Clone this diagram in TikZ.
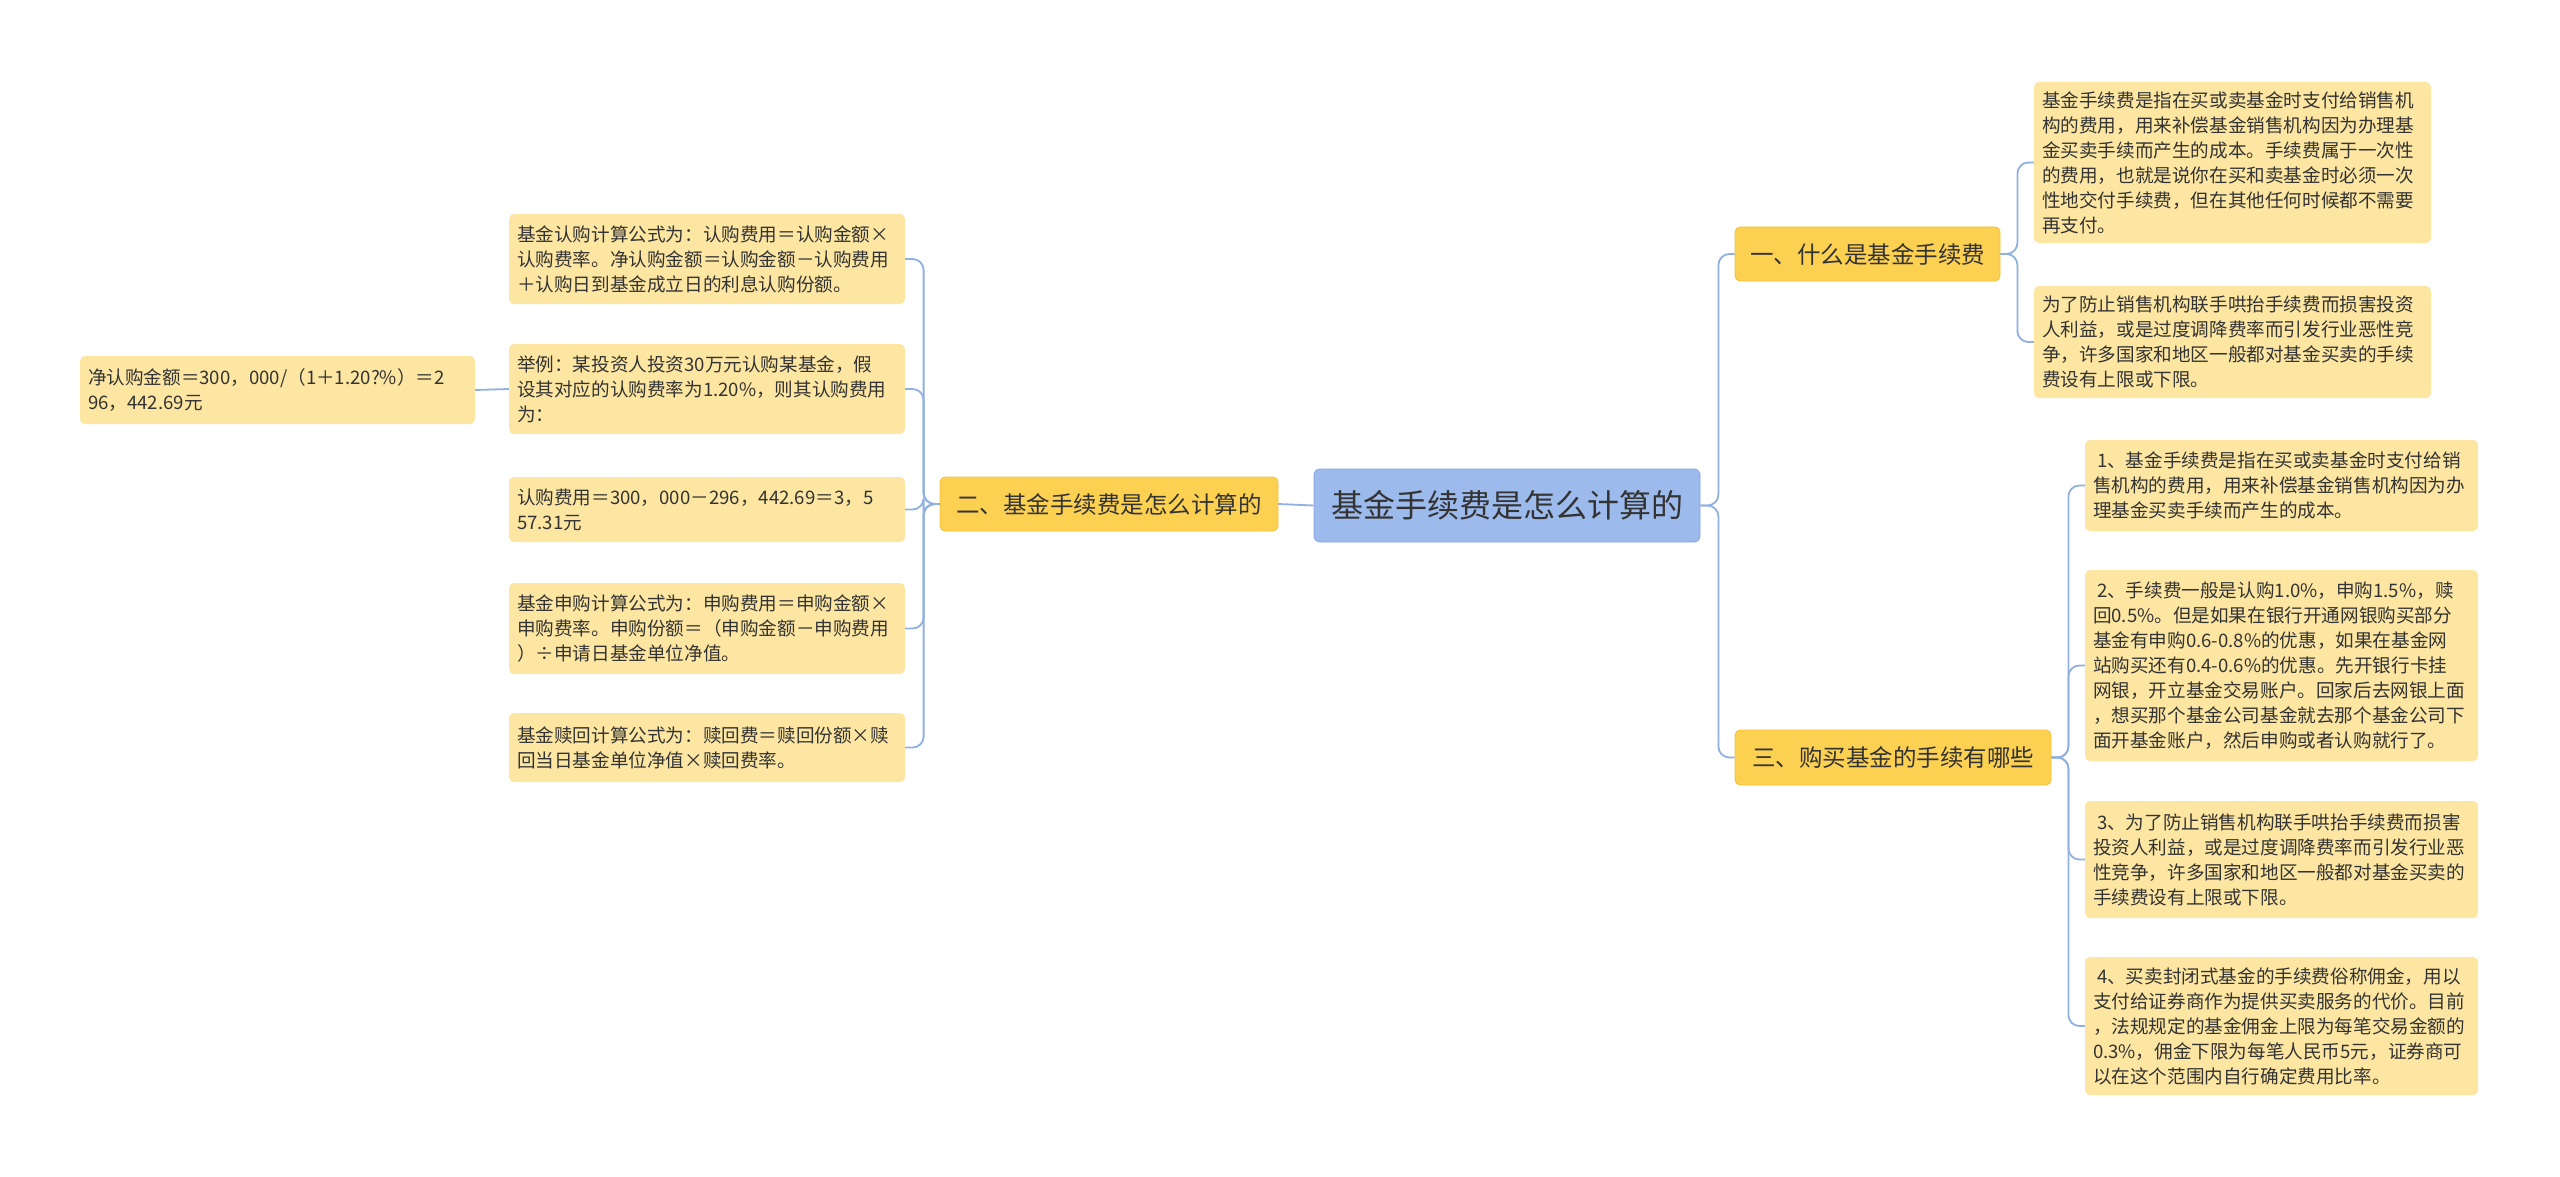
\documentclass[tikz,border=0pt]{standalone}
\usepackage{fontspec}
\setmainfont{Noto Sans CJK SC}
\begin{document}
\begin{tikzpicture}[x=1pt,y=-1pt,
  conn/.style={draw=linkblue,line width=1.8pt,rounded corners=11pt},
  leaf/.style={fill=leaffill,rounded corners=5pt,text=txt,align=left,
    font=\fontsize{18.6}{25}\selectfont,inner xsep=8pt,inner ysep=0pt,anchor=center},
  branch/.style={fill=branchfill,draw=branchdraw,line width=0.8pt,rounded corners=5pt,text=txt,
    font=\fontsize{23.5}{28}\selectfont,inner sep=0pt,anchor=center},
  rootbox/.style={fill=rootfill,draw=rootdraw,line width=0.8pt,rounded corners=6pt,text=txt,
    font=\fontsize{32}{38}\selectfont,inner sep=0pt,anchor=center}]
\definecolor{linkblue}{HTML}{8FB0E0}
\definecolor{leaffill}{HTML}{FDE6A2}
\definecolor{branchfill}{HTML}{FCD152}
\definecolor{branchdraw}{HTML}{F2C23C}
\definecolor{rootfill}{HTML}{9DBAEC}
\definecolor{rootdraw}{HTML}{86A6E0}
\definecolor{txt}{HTML}{333333}
\useasboundingbox[fill=white] (0,0) rectangle (2560,1177);

% root and branches
\node[rootbox,minimum width=386pt,minimum height=73pt] (root) at (1507,505.5) {基金手续费是怎么计算的};
\node[branch,minimum width=338pt,minimum height=54pt] (b2) at (1109,504) {二、基金手续费是怎么计算的};
\node[branch,minimum width=265pt,minimum height=54pt] (b1) at (1867.5,254) {一、什么是基金手续费};
\node[branch,minimum width=316pt,minimum height=55pt] (b3) at (1893,757.5) {三、购买基金的手续有哪些};

% left leaves
\node[leaf,text width=380pt,minimum height=90pt] (l1) at (707,259) {基金认购计算公式为：认购费用＝认购金额×\\认购费率。净认购金额＝认购金额－认购费用\\＋认购日到基金成立日的利息认购份额。};
\node[leaf,text width=380pt,minimum height=90pt] (l2) at (707,389) {举例：某投资人投资30万元认购某基金，假\\设其对应的认购费率为1.20\%，则其认购费用\\为：};
\node[leaf,text width=380pt,minimum height=65pt] (l3) at (707,509.5) {认购费用＝300，000－296，442.69＝3，5\\57.31元};
\node[leaf,text width=380pt,minimum height=91pt] (l4) at (707,628.5) {基金申购计算公式为：申购费用＝申购金额×\\申购费率。申购份额＝（申购金额－申购费用\\）÷申请日基金单位净值。};
\node[leaf,text width=380pt,minimum height=69pt] (l5) at (707,747.5) {基金赎回计算公式为：赎回费＝赎回份额×赎\\回当日基金单位净值×赎回费率。};
\node[leaf,text width=379pt,minimum height=68pt] (ll) at (277.5,390) {净认购金额＝300，000/（1＋1.20?\%）＝2\\96，442.69元};

% right leaves, branch 1
\node[leaf,text width=381pt,minimum height=161pt] (r1a) at (2232.5,162.5) {基金手续费是指在买或卖基金时支付给销售机\\构的费用，用来补偿基金销售机构因为办理基\\金买卖手续而产生的成本。手续费属于一次性\\的费用，也就是说你在买和卖基金时必须一次\\性地交付手续费，但在其他任何时候都不需要\\再支付。};
\node[leaf,text width=381pt,minimum height=112pt] (r1b) at (2232.5,342) {为了防止销售机构联手哄抬手续费而损害投资\\人利益，或是过度调降费率而引发行业恶性竞\\争，许多国家和地区一般都对基金买卖的手续\\费设有上限或下限。};

% right leaves, branch 3
\node[leaf,text width=377pt,minimum height=91pt] (r3a) at (2281.5,485.5) {\hspace*{4pt}1、基金手续费是指在买或卖基金时支付给销\\售机构的费用，用来补偿基金销售机构因为办\\理基金买卖手续而产生的成本。};
\node[leaf,text width=377pt,minimum height=191pt] (r3b) at (2281.5,665.5) {\hspace*{4pt}2、手续费一般是认购1.0\%，申购1.5\%，赎\\回0.5\%。但是如果在银行开通网银购买部分\\基金有申购0.6-0.8\%的优惠，如果在基金网\\站购买还有0.4-0.6\%的优惠。先开银行卡挂\\网银，开立基金交易账户。回家后去网银上面\\，想买那个基金公司基金就去那个基金公司下\\面开基金账户，然后申购或者认购就行了。};
\node[leaf,text width=377pt,minimum height=117pt] (r3c) at (2281.5,859.5) {\hspace*{4pt}3、为了防止销售机构联手哄抬手续费而损害\\投资人利益，或是过度调降费率而引发行业恶\\性竞争，许多国家和地区一般都对基金买卖的\\手续费设有上限或下限。};
\node[leaf,text width=377pt,minimum height=138pt] (r3d) at (2281.5,1026) {\hspace*{4pt}4、买卖封闭式基金的手续费俗称佣金，用以\\支付给证券商作为提供买卖服务的代价。目前\\，法规规定的基金佣金上限为每笔交易金额的\\0.3\%，佣金下限为每笔人民币5元，证券商可\\以在这个范围内自行确定费用比率。};

% connectors
\draw[conn] (root.west) -- (b2.east);
\foreach \c in {l1,l2,l3,l4,l5} \draw[conn] (b2.west) -- ++(-16,0) |- (\c.east);
\draw[conn] (l2.west) -- (ll.east);
\draw[conn] (root.east) -- ++(18,0) |- (b1.west);
\draw[conn] (root.east) -- ++(18,0) |- (b3.west);
\foreach \c in {r1a,r1b} \draw[conn] (b1.east) -- ++(17,0) |- (\c.west);
\foreach \c in {r3a,r3b,r3c,r3d} \draw[conn] (b3.east) -- ++(17,0) |- (\c.west);
\end{tikzpicture}
\end{document}
